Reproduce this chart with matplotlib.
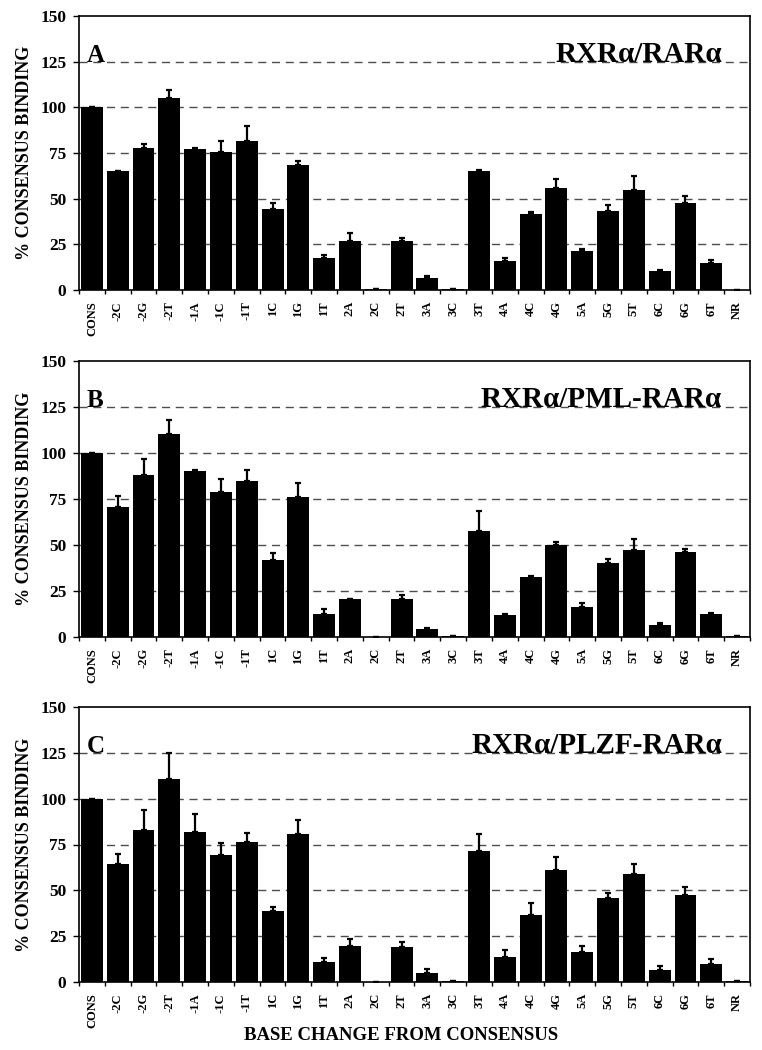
import matplotlib
matplotlib.use("Agg")
import matplotlib.pyplot as plt
import numpy as np

plt.rcParams['font.family'] = ['Liberation Serif', 'DejaVu Serif']
plt.rcParams['font.weight'] = 'bold'

categories = ["CONS", "-2C", "-2G", "-2T", "-1A", "-1C", "-1T", "1C", "1G", "1T",
              "2A", "2C", "2T", "3A", "3C", "3T", "4A", "4C", "4G", "5A",
              "5G", "5T", "6C", "6G", "6T", "NR"]

rar_mean = [100, 65, 77.5, 105, 77.3, 75.8, 81.8, 44.3, 68.2, 17.7, 26.8, 0.3, 26.6,
            6.4, 0.5, 65.4, 16, 41.4, 56.1, 21.3, 43.4, 55, 10.6, 47.7, 14.8, 0]
rar_err = [0, 0.4, 2.3, 4.3, 0.3, 5.7, 7.9, 3.4, 2.5, 1.3, 4.2, 0, 1.8,
           1.1, 0, 0.4, 1.5, 1.4, 4.9, 0.9, 3.1, 7.5, 0.2, 3.9, 1.4, 0]

pml_mean = [100, 70.5, 88, 110.3, 90.2, 78.8, 84.6, 42, 75.9, 12.3, 20.5, 0.2, 20.8,
            4.3, 0.3, 57.8, 12, 32.8, 49.8, 16.1, 40, 47.3, 6.7, 46, 12.3, 0.3]
pml_err = [0, 6.1, 8.7, 7.8, 0.4, 6.9, 6.2, 3.7, 7.8, 2.7, 0.3, 0, 1.8,
           0.7, 0, 10.7, 0.3, 0.4, 1.8, 2.4, 2.2, 5.8, 0.9, 1.8, 0.6, 0]

plzf_mean = [100, 64.6, 83, 110.6, 82, 69.1, 76.6, 38.6, 80.8, 10.7, 19.7, 0, 19.3,
             4.7, 0.5, 71.7, 13.9, 36.7, 61.1, 16.1, 46, 58.9, 6.6, 47.3, 9.7, 0.3]
plzf_err = [0, 5.3, 10.9, 14.4, 9.9, 6.6, 4.5, 2.3, 7.8, 2.2, 4, 0, 2.7,
            2.4, 0, 9.1, 3.3, 6.4, 6.9, 3.4, 2.7, 5.7, 2.3, 4.5, 3.1, 0]

panel_letters = ["A", "B", "C"]
panel_titles = ["RXRα/RARα", "RXRα/PML-RARα", "RXRα/PLZF-RARα"]
y_ticks = [0, 25, 50, 75, 100, 125, 150]
y_label = "% CONSENSUS BINDING"
x_label = "BASE CHANGE FROM CONSENSUS"

means = [rar_mean, pml_mean, plzf_mean]
errs = [rar_err, pml_err, plzf_err]

fig = plt.figure(figsize=(7.62, 10.5), dpi=100)
left = 79 / 762
width = 671 / 762
bottoms_px = [290, 637, 982]
tops_px = [16, 361, 707]

x = np.arange(len(categories))
for i in range(3):
    b = 1 - bottoms_px[i] / 1050
    h = (bottoms_px[i] - tops_px[i]) / 1050
    ax = fig.add_axes([left, b, width, h])
    m = np.array(means[i])
    e = np.array(errs[i])
    for yv in [25, 50, 75, 100, 125]:
        ax.axhline(yv, color='0.3', lw=1.0, ls=(0, (5.8, 4.1)), zorder=1)
    ax.bar(x, m, width=0.85, color='black', zorder=2)
    ax.errorbar(x, m, yerr=[np.zeros_like(e), e], fmt='none', ecolor='black',
                elinewidth=1.6, capsize=2.5, capthick=1.6, zorder=3)
    ax.set_xlim(-0.5, len(categories) - 0.5)
    ax.set_ylim(0, 150)
    ax.set_yticks(y_ticks)
    ax.set_yticklabels([str(t) for t in y_ticks], fontsize=12.5, fontweight='bold')
    ax.set_xticks(x)
    ax.set_xticklabels(categories, rotation=90, fontsize=9, fontweight='bold')
    ax.set_xticks(np.arange(-0.5, len(categories), 1), minor=True)
    ax.tick_params(axis='x', which='major', length=0, pad=8)
    ax.tick_params(axis='x', which='minor', length=3, width=1, direction='out')
    ax.tick_params(axis='y', which='major', length=4, width=1, direction='out', pad=5)
    for s in ax.spines.values():
        s.set_linewidth(1.2)
        s.set_color('black')
    ax.set_ylabel(y_label, fontsize=13, fontweight='bold', labelpad=5)
    ax.text(0.012, 125, panel_letters[i], transform=ax.get_yaxis_transform(),
            fontsize=18, fontweight='bold', ha='left', va='baseline', zorder=4)
    ax.text(0.958, 125, panel_titles[i], transform=ax.get_yaxis_transform(),
            fontsize=21, fontweight='bold', ha='right', va='baseline', zorder=4)

fig.text(401 / 762, 10 / 1050, x_label, fontsize=13.5, fontweight='bold',
         ha='center', va='baseline')

fig.savefig("out.png", dpi=100, facecolor='white')
